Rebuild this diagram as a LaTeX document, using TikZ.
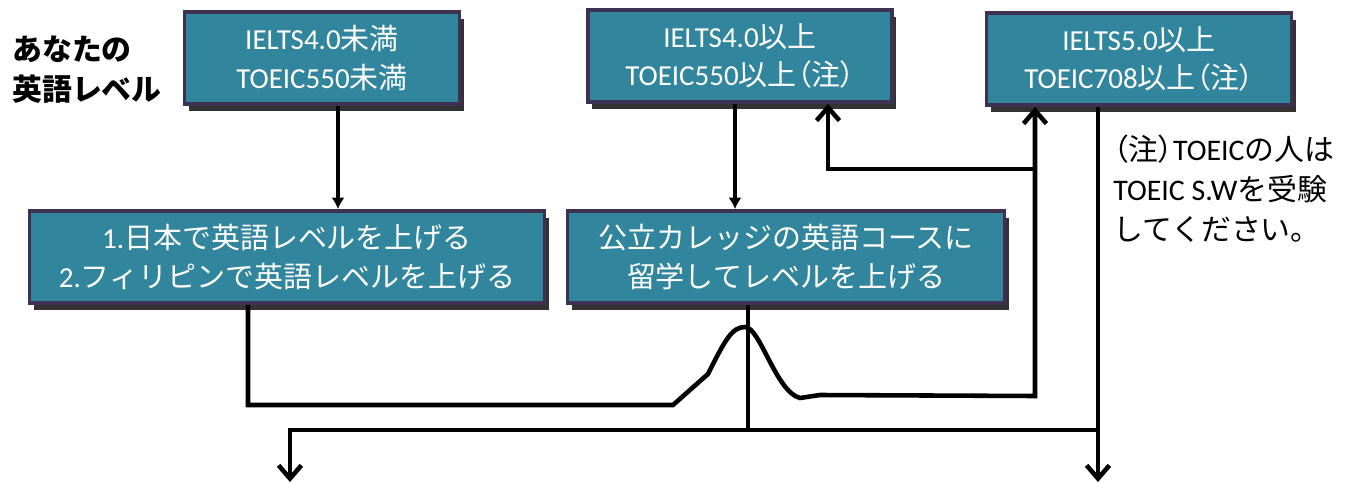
\documentclass[tikz,border=0pt]{standalone}
\usepackage{fontspec}
\setmainfont{Noto Sans CJK JP}
\newfontfamily\lat{Carlito}
\newfontfamily\jpp[RawFeature=+palt]{Noto Sans CJK JP}
\usetikzlibrary{arrows.meta,shadows}
\definecolor{boxteal}{HTML}{31859C}
\definecolor{boxedge}{HTML}{3F3151}
\tikzset{
  levelbox/.style={draw=boxedge, line width=2.2pt, fill=boxteal, text=white,
    align=center, inner sep=0pt, minimum height=1.84cm,
    font=\fontsize{16.5}{22}\selectfont,
    drop shadow={shadow xshift=2.5pt, shadow yshift=-4pt, fill=black, opacity=.8}},
  flow/.style={line width=2.6pt},
  solidtip/.style={flow, -{Latex[length=6.5pt,width=7.5pt]}},
  opentip/.style={flow, -{Straight Barb[length=7.5pt,width=13pt]}},
}

\begin{document}
\begin{tikzpicture}[x=0.02cm, y=-0.02cm]
\useasboundingbox (0,0) rectangle (1358,483);

\node[anchor=west, align=left, inner sep=0pt, font=\bfseries\fontsize{17}{22.7}\selectfont] (lblLevel) at (12,70) {あなたの\\英語レベル};

\node[levelbox, minimum width=5.5cm] (boxLow) at (322,58) {{\lat IELTS4.0}未満\\{\lat TOEIC550}未満};
\node[levelbox, minimum width=6.08cm] (boxMid) at (740,56) {{\lat IELTS4.0}以上\\{\lat TOEIC550}以上{\jpp （注）}};
\node[levelbox, minimum width=6.1cm] (boxHigh) at (1139,59) {{\lat IELTS5.0}以上\\{\lat TOEIC708}以上{\jpp （注）}};

\node[levelbox, minimum width=10.3cm] (boxJapan) at (287,257) {{\lat 1.}日本で英語レベルを上げる\\{\lat 2.}フィリピンで英語レベルを上げる};
\node[levelbox, minimum width=8.74cm] (boxCollege) at (786,257) {公立カレッジの英語コースに\\留学してレベルを上げる};

\node[anchor=west, align=left, inner sep=0pt, font=\fontsize{17}{22.7}\selectfont] (lblNote) at (1113,189) {{\jpp （注）}{\lat TOEIC}の人は\\{\lat TOEIC S.W}を受験\\してください。};

% junctions
\coordinate (jLow) at (338,0);
\coordinate (jMid) at (735,0);
\coordinate (jMidUp) at (828,169);
\coordinate (jHighUp) at (1035,169);
\coordinate (jBend) at (1035,396);
\coordinate (jJapan) at (248,405);
\coordinate (jBus) at (748,430);
\coordinate (jOutL) at (290,482);
\coordinate (jOutR) at (1098,482);

\draw[solidtip] (boxLow.south -| jLow) -- (boxJapan.north -| jLow);
\draw[solidtip] (boxMid.south -| jMid) -- (boxCollege.north -| jMid);
\draw[opentip] (jHighUp) -- (jMidUp) -- (boxMid.south -| jMidUp);

\draw[opentip] (boxJapan.south -| jJapan) -- (jJapan) -- (673,405) -- (708,374)
  .. controls (725,340) and (732,327) .. (745,327)
  .. controls (760,327) and (776,392) .. (800,398) -- (820,395) -- (jBend) -- (boxHigh.south -| jBend);

\draw[flow] (boxCollege.south -| jBus) -- (jBus);
\draw[opentip] (jBus -| jOutR) -- (jBus -| jOutL) -- (jOutL);
\draw[opentip] (boxHigh.south -| jOutR) -- (jOutR);

\end{tikzpicture}
\end{document}
